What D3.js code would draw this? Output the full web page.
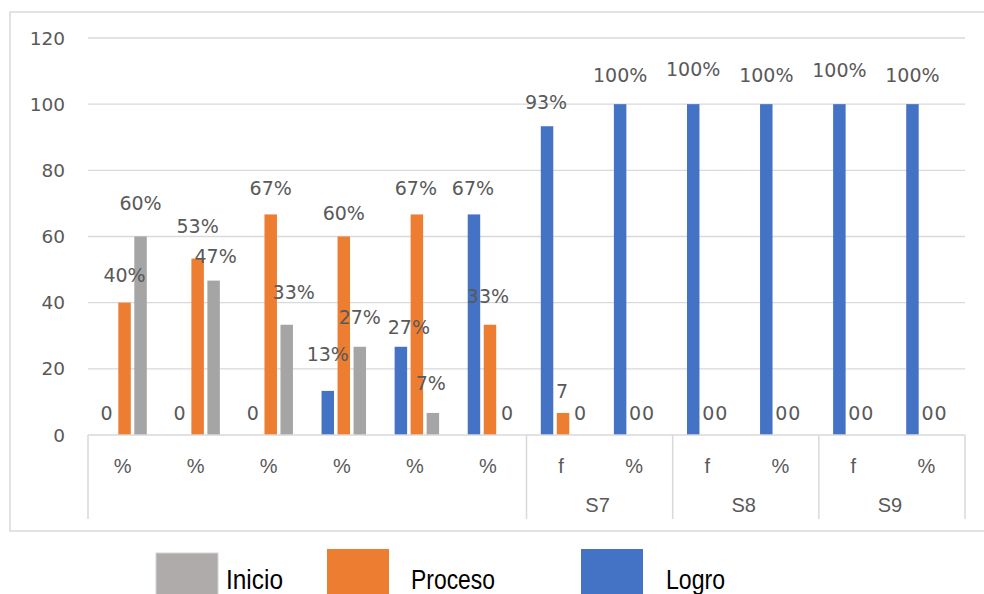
<!DOCTYPE html>
<html>
<head>
<meta charset="utf-8">
<script src="https://cdn.jsdelivr.net/npm/d3@7"></script>
<style>
  html, body { margin: 0; padding: 0; background: #fff; }
  svg { display: block; }
</style>
</head>
<body>
<svg id="chart" width="984" height="594"></svg>
<script>
// ---------- DATA ----------
const subCategories = ["%", "%", "%", "%", "%", "%", "f", "%", "f", "%", "f", "%"];
const groups = [
  { label: "",   start: 0,  end: 5 },
  { label: "S7", start: 6,  end: 7 },
  { label: "S8", start: 8,  end: 9 },
  { label: "S9", start: 10, end: 11 }
];
const seriesNames = ["Logro", "Proceso", "Inicio"];
const logro   = [0, 0, 0, 13.33, 26.67, 66.67, 93.33, 100, 100, 100, 100, 100];
const proceso = [40, 53.33, 66.67, 60, 66.67, 33.33, 6.67, 0, 0, 0, 0, 0];
const inicio  = [60, 46.67, 33.33, 26.67, 6.67, 0, 0, 0, 0, 0, 0, 0];
const logroLabels   = ["0", "0", "0", "13%", "27%", "67%", "93%", "100%", "100%", "100%", "100%", "100%"];
const procesoLabels = ["40%", "53%", "67%", "60%", "67%", "33%", "7", "0", "0", "0", "0", "0"];
const inicioLabels  = ["60%", "47%", "33%", "27%", "7%", "0", "0", "0", "0", "0", "0", "0"];
const yTicks = [0, 20, 40, 60, 80, 100, 120];
const legendOrder = ["Inicio", "Proceso", "Logro"];

// ---------- LAYOUT (label nudges, not data) ----------
const labelLift = {
  Logro:   [22, 22, 22, 37, 20, 26, 24, 29, 35, 29, 34, 29],
  Proceso: [28, 33, 26, 24, 26, 29, 22, 22, 22, 22, 22, 22],
  Inicio:  [34, 25, 33, 30, 30, 22, 22, 22, 22, 22, 22, 22]
};
const labelShift = {
  Logro:   [-2, -2, -2, 0, 8, -1, -1, 0, 0, 0, 0, 0],
  Proceso: [0, 0, 0, 0, -1, -2, -1, -1, -1, -1, -1, -1],
  Inicio:  [0, 2, 7, 0, -2, 1, 1, -4, -4, -4, -4, -4]
};

const colors = { Logro: "#4472C4", Proceso: "#ED7D31", Inicio: "#A5A5A5" };
const legendColors = { Logro: "#4472C4", Proceso: "#ED7D31", Inicio: "#AEABAA" };
const seriesData = { Logro: logro, Proceso: proceso, Inicio: inicio };
const seriesLabels = { Logro: logroLabels, Proceso: procesoLabels, Inicio: inicioLabels };

const svg = d3.select("#chart");
const plotLeft = 88, plotRight = 965, plotTop = 38, plotBottom = 435;
const gridColor = "#D9D9D9";
const textColor = "#595959";
const numFont = "'DejaVu Sans', sans-serif";
const narrowFont = "'Liberation Sans Narrow', 'Liberation Sans', sans-serif";

// outer border
svg.append("rect")
  .attr("x", 10).attr("y", 12).attr("width", 990).attr("height", 519)
  .attr("fill", "none").attr("stroke", gridColor).attr("stroke-width", 1.5);

const x0 = d3.scaleBand().domain(d3.range(subCategories.length)).range([plotLeft, plotRight]).padding(0);
const x1 = d3.scaleBand().domain(seriesNames).range([0, x0.bandwidth()])
  .paddingInner(0.22).paddingOuter(0.894);
const y = d3.scaleLinear().domain([0, 120]).range([plotBottom, plotTop]);

// gridlines
svg.append("g").selectAll("line").data(yTicks.filter(t => t > 0)).join("line")
  .attr("x1", plotLeft).attr("x2", plotRight)
  .attr("y1", d => y(d)).attr("y2", d => y(d))
  .attr("stroke", gridColor).attr("stroke-width", 1.4);

// y tick labels
svg.append("g").selectAll("text").data(yTicks).join("text")
  .attr("x", 65).attr("y", d => y(d))
  .attr("text-anchor", "end").attr("dominant-baseline", "central")
  .attr("font-family", numFont).attr("font-size", 18.5).attr("fill", textColor)
  .text(d => d);

// bars
const flat = [];
seriesNames.forEach(s => {
  seriesData[s].forEach((v, i) => flat.push({ s, i, v, label: seriesLabels[s][i] }));
});
svg.append("g").selectAll("rect").data(flat.filter(d => d.v > 0)).join("rect")
  .attr("x", d => x0(d.i) + x1(d.s))
  .attr("y", d => y(d.v))
  .attr("width", x1.bandwidth())
  .attr("height", d => y(0) - y(d.v))
  .attr("fill", d => colors[d.s]);

// data labels
svg.append("g").selectAll("text").data(flat).join("text")
  .attr("x", d => x0(d.i) + x1(d.s) + x1.bandwidth() / 2 + labelShift[d.s][d.i])
  .attr("y", d => y(d.v) - labelLift[d.s][d.i])
  .attr("text-anchor", "middle").attr("dominant-baseline", "central")
  .attr("font-family", numFont).attr("font-size", 19).attr("fill", textColor)
  .text(d => d.label);

// x axis line
svg.append("line")
  .attr("x1", plotLeft).attr("x2", plotRight).attr("y1", plotBottom).attr("y2", plotBottom)
  .attr("stroke", gridColor).attr("stroke-width", 1.5);

// group separators
const sepX = [plotLeft].concat(groups.map(g => x0(g.end) + x0.bandwidth()));
svg.append("g").selectAll("line").data(sepX).join("line")
  .attr("x1", d => d).attr("x2", d => d)
  .attr("y1", plotBottom).attr("y2", 519)
  .attr("stroke", gridColor).attr("stroke-width", 1.5);

// sub-category labels
svg.append("g").selectAll("text").data(subCategories).join("text")
  .attr("x", (d, i) => x0(i) + x0.bandwidth() / 2 - 2)
  .attr("y", 466)
  .attr("text-anchor", "middle").attr("dominant-baseline", "central")
  .attr("font-family", narrowFont).attr("font-size", 20).attr("fill", textColor)
  .text(d => d);

// group labels
svg.append("g").selectAll("text").data(groups).join("text")
  .attr("x", g => (x0(g.start) + x0(g.end) + x0.bandwidth()) / 2 - 2)
  .attr("y", 505)
  .attr("text-anchor", "middle").attr("dominant-baseline", "central")
  .attr("font-family", narrowFont).attr("font-size", 20).attr("fill", textColor)
  .text(g => g.label);

// legend
const legendPos = {
  Inicio:  { sx: 156, sy: 553, tx: 226, tw: 57 },
  Proceso: { sx: 327, sy: 549, tx: 411, tw: 84 },
  Logro:   { sx: 581, sy: 549, tx: 666, tw: 59 }
};
const lg = svg.append("g");
legendOrder.forEach(name => {
  const p = legendPos[name];
  lg.append("rect")
    .attr("x", p.sx).attr("y", p.sy).attr("width", 62).attr("height", 50)
    .attr("fill", legendColors[name])
    .attr("stroke", name === "Inicio" ? "#D6D4D4" : "none").attr("stroke-width", 1);
  lg.append("text")
    .attr("x", p.tx).attr("y", 589)
    .attr("font-family", narrowFont).attr("font-size", 27).attr("fill", "#000")
    .attr("textLength", p.tw).attr("lengthAdjust", "spacingAndGlyphs")
    .text(name);
});
</script>
</body>
</html>
